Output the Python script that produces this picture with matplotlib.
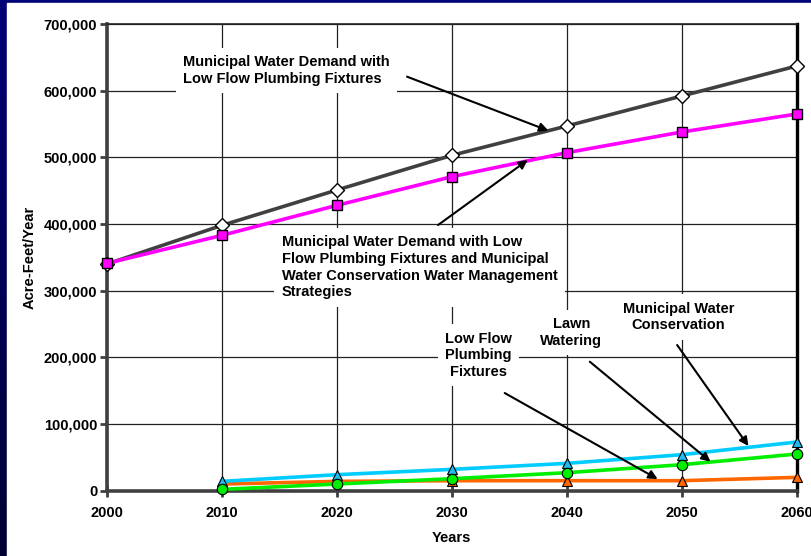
import numpy as np
import matplotlib
matplotlib.use('Agg')
import matplotlib.pyplot as plt
from matplotlib.patches import Rectangle
from matplotlib.ticker import FuncFormatter

plt.rcParams['font.family'] = ['Liberation Sans', 'DejaVu Sans']
plt.rcParams['font.weight'] = 'bold'

# Municipal demand projections (acre-feet/year)
years = [2000, 2010, 2020, 2030, 2040, 2050, 2060]
demand_low_flow = [340000, 398000, 451000, 503000, 547000, 592000, 637000]
demand_with_strategies = [341000, 383000, 428000, 471000, 507000, 538000, 565000]

# Conservation savings by strategy
savings_years = [2010, 2020, 2030, 2040, 2050, 2060]
municipal_conservation = [14000, 24000, 32000, 41000, 54000, 73000]
lawn_watering = [2000, 10000, 18000, 27000, 39000, 55000]
low_flow_fixtures = [10000, 14000, 15000, 15000, 15000, 20000]

FS = 10.5

fig = plt.figure(figsize=(8.12, 5.56), dpi=100)

# navy slide background with a white panel
bg = fig.add_axes([0, 0, 1, 1], zorder=-10)
grad = np.linspace(0, 1, 256).reshape(-1, 1)
bg.imshow(grad, aspect='auto', extent=[0, 1, 0, 1],
          cmap=matplotlib.colors.LinearSegmentedColormap.from_list('navy', ['#000078', '#000034']))
bg.add_patch(Rectangle((7 / 812, 0), 1, 1 - 3 / 556, color='white'))
bg.set_xlim(0, 1)
bg.set_ylim(0, 1)
bg.axis('off')

ax = fig.add_axes([107 / 812, 1 - 490.7 / 556, (796.7 - 107) / 812, (490.7 - 24) / 556])
ax.set_facecolor('none')

ax.set_xlim(2000, 2060)
ax.set_ylim(0, 700000)
ax.set_xticks(range(2000, 2061, 10))
ax.set_yticks(range(0, 700001, 100000))
ax.yaxis.set_major_formatter(FuncFormatter(lambda v, p: f'{int(v):,}'))
ax.tick_params(axis='y', direction='out', length=5, width=2, color='#404040',
               labelsize=FS, pad=2)
ax.tick_params(axis='x', direction='inout', length=8, width=2, color='#404040',
               labelsize=FS, pad=7)

ax.grid(True, color='#222222', linewidth=0.9, zorder=1)
ax.set_axisbelow(True)

ax.spines['left'].set_color('#404040')
ax.spines['left'].set_linewidth(2.6)
ax.spines['bottom'].set_color('#404040')
ax.spines['bottom'].set_linewidth(2.6)
ax.spines['top'].set_color('#222222')
ax.spines['top'].set_linewidth(1.2)
ax.spines['right'].set_color('black')
ax.spines['right'].set_linewidth(2.4)

ax.set_xlabel('Years', fontsize=FS, fontweight='bold', labelpad=8)
ax.set_ylabel('Acre-Feet/Year', fontsize=FS, fontweight='bold', labelpad=5)

# demand lines
ax.plot(years, demand_low_flow, color='#404040', lw=2.6, marker='D', ms=7.2,
        mfc='white', mec='black', mew=1, zorder=5, clip_on=False)
ax.plot(years, demand_with_strategies, color='#FF00FF', lw=2.6, marker='s', ms=7.5,
        mfc='#FF00FF', mec='black', mew=1, zorder=5, clip_on=False)

# savings lines
ax.plot(savings_years, low_flow_fixtures, color='#FF6600', lw=2.6, marker='^', ms=7.5,
        mfc='#FF6600', mec='black', mew=0.8, zorder=5, clip_on=False)
ax.plot(savings_years, municipal_conservation, color='#00CCFF', lw=2.6, marker='^', ms=7.5,
        mfc='#22BBEE', mec='black', mew=0.8, zorder=5, clip_on=False)
ax.plot(savings_years, lawn_watering, color='#00EE00', lw=2.6, marker='o', ms=7.5,
        mfc='#00EE00', mec='black', mew=0.8, zorder=6, clip_on=False)

box = dict(boxstyle='square,pad=0.5', fc='white', ec='none')
arrow = dict(arrowstyle='-|>', color='black', lw=1.5, mutation_scale=13,
             shrinkA=0, shrinkB=0)

ax.text(2006.6, 653500, 'Municipal Water Demand with\nLow Flow Plumbing Fixtures',
        ha='left', va='top', fontsize=FS, fontweight='bold', bbox=box, zorder=3,
        linespacing=1.25)
ax.text(2015.2, 383500, 'Municipal Water Demand with Low\nFlow Plumbing Fixtures and Municipal\n'
        'Water Conservation Water Management\nStrategies',
        ha='left', va='top', fontsize=FS, fontweight='bold', bbox=box, zorder=3,
        linespacing=1.25)
ax.text(2032.3, 238500, 'Low Flow\nPlumbing\nFixtures', ha='center', va='top',
        fontsize=FS, fontweight='bold', bbox=box, zorder=3, linespacing=1.25)
ax.text(2040.4, 260500, 'Lawn\nWatering', ha='center', va='top',
        fontsize=FS, fontweight='bold', bbox=box, zorder=3, linespacing=1.25)
ax.text(2049.7, 283500, 'Municipal Water\nConservation', ha='center', va='top',
        fontsize=FS, fontweight='bold', bbox=box, zorder=3, linespacing=1.25)

ax.annotate('', xy=(2038.4, 540000), xytext=(2026.1, 621000), arrowprops=arrow, zorder=7)
ax.annotate('', xy=(2036.6, 496000), xytext=(2028.8, 398500), arrowprops=arrow, zorder=7)
ax.annotate('', xy=(2047.9, 17500), xytext=(2034.6, 146500), arrowprops=arrow, zorder=7)
ax.annotate('', xy=(2052.5, 43500), xytext=(2042.0, 193500), arrowprops=arrow, zorder=7)
ax.annotate('', xy=(2055.8, 67000), xytext=(2049.6, 218500), arrowprops=arrow, zorder=7)

fig.savefig('out.png', dpi=100)
